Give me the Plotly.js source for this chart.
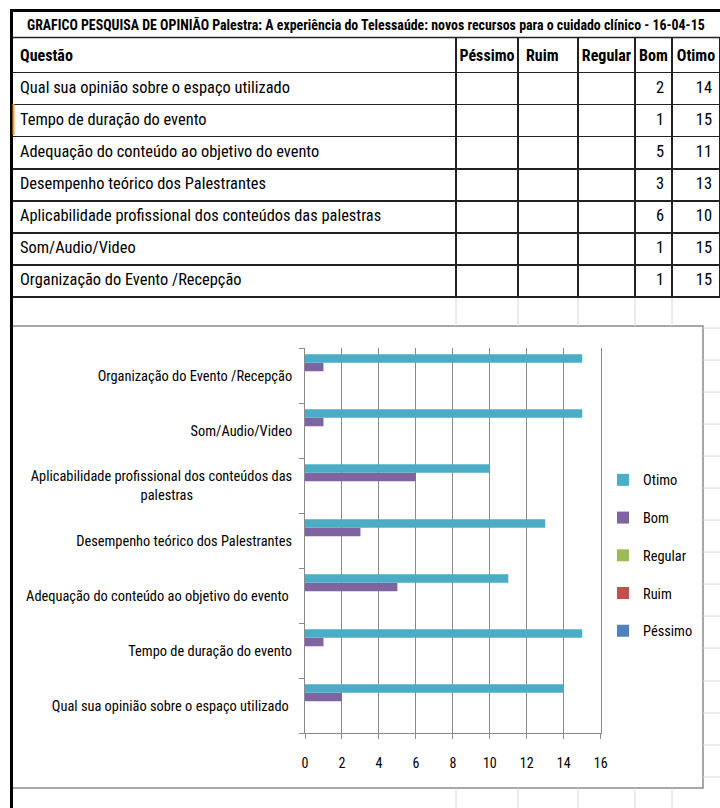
<!DOCTYPE html>
<html>
<head>
<meta charset="utf-8">
<script src="https://cdn.plot.ly/plotly-3.0.1.min.js"></script>
<style>html,body{margin:0;padding:0;background:#fff}#chart{width:720px;height:808px}</style>
</head>
<body>
<div id="chart"></div>
<script>
// ---- data ----
const sheetTitle = "GRAFICO PESQUISA DE OPINIÃO Palestra: A experiência do Telessaúde: novos recursos para o cuidado clínico - 16-04-15";
const columnHeaders = ["Questão", "Péssimo", "Ruim", "Regular", "Bom", "Otimo"];
const questions = [
  "Qual sua opinião sobre o espaço utilizado",
  "Tempo de duração do evento",
  "Adequação do conteúdo ao objetivo do evento",
  "Desempenho teórico dos Palestrantes",
  "Aplicabilidade profissional dos conteúdos das palestras",
  "Som/Audio/Video",
  "Organização do Evento /Recepção"
];
const chartLabels = [
  "Qual sua opinião sobre o espaço utilizado\u00A0",
  "Tempo de duração do evento",
  "Adequação do conteúdo ao objetivo do evento\u00A0",
  "Desempenho teórico dos Palestrantes",
  "Aplicabilidade profissional dos conteúdos das<br>palestras" + "\u00A0".repeat(30),
  "Som/Audio/Video",
  "Organização do Evento /Recepção"
];
const pessimo = [null, null, null, null, null, null, null];
const ruim    = [null, null, null, null, null, null, null];
const regular = [null, null, null, null, null, null, null];
const bom     = [2, 1, 5, 3, 6, 1, 1];
const otimo   = [14, 15, 11, 13, 10, 15, 15];
const seriesNames  = ["Péssimo", "Ruim", "Regular", "Bom", "Otimo"];
const seriesColors = ["#4F81BD", "#C0504D", "#9BBB59", "#8064A2", "#4BACC6"];

// ---- layout helpers (pixel -> paper) ----
const W = 720, H = 808;
const px = x => x / W;
const py = y => 1 - y / H;
const FONT = "'Roboto Condensed', 'DejaVu Sans Condensed', 'Liberation Sans Narrow', Lato, sans-serif";

const cellText = v => (v === null ? "" : String(v));
const seriesData = [pessimo, ruim, regular, bom, otimo];

const dataTable = {
  type: "table",
  domain: {x: [px(12), 1], y: [py(303), py(37.5)]},
  columnwidth: [444, 62, 60, 57, 37, 48],
  header: {
    values: columnHeaders.map(h => "<b>" + h + "</b>"),
    align: ["left", "center", "left", "center", "center", "center"],
    height: 31,
    font: {family: FONT, size: 16, color: "#000"},
    line: {color: "#222", width: 1.5},
    fill: {color: "#fff"}
  },
  cells: {
    values: [questions].concat(seriesData.map(s => s.map(cellText))),
    align: ["left", "right", "right", "right", "right", "right"],
    height: 32.1,
    font: {family: FONT, size: 16.4, color: "#000"},
    line: {color: "#222", width: 1.5},
    fill: {color: "#fff"}
  }
};

const bars = seriesNames.map((name, i) => ({
  type: "bar",
  orientation: "h",
  name: name,
  x: seriesData[i],
  y: chartLabels,
  marker: {color: seriesColors[i], line: {width: 0}},
  legendgroup: name,
  legendrank: seriesNames.length - i,
  hoverinfo: "skip"
}));

// ---- decorative spreadsheet lines ----
const shapes = [];
const line = (x0, y0, x1, y1, color, width) => shapes.push({
  type: "line", xref: "paper", yref: "paper",
  x0: px(x0), y0: py(y0), x1: px(x1), y1: py(y1),
  line: {color: color, width: width}
});
const gridCols = [456, 518, 578, 635, 672];
gridCols.forEach(x => { line(x, 298, x, 326, "#d8d8d8", 1); line(x, 788, x, 808, "#d8d8d8", 1); });
[328, 360, 392, 424, 456, 488, 520, 552, 584, 616, 648, 681, 713, 745, 777].forEach(y => line(703, y, 720, y, "#d8d8d8", 1));
// title row frame
shapes.push({type: "rect", xref: "paper", yref: "paper", x0: px(12), y0: py(37.5), x1: px(721), y1: py(10),
  line: {color: "#222", width: 1.5}, fillcolor: "rgba(0,0,0,0)"});
// chart frame
shapes.push({type: "rect", xref: "paper", yref: "paper", x0: px(12), y0: py(326), x1: px(703), y1: py(788),
  line: {color: "#8a8a8a", width: 1.5}, fillcolor: "rgba(0,0,0,0)", layer: "below"});
// thick sheet borders
line(11.5, 9, 11.5, 808, "#000", 3);
line(10, 10.5, 720, 10.5, "#000", 3);
// selected cell marker
line(13.5, 104, 13.5, 135, "#f0a030", 2);

const layout = {
  width: W, height: H,
  margin: {l: 0, r: 0, t: 0, b: 0},
  paper_bgcolor: "#fff", plot_bgcolor: "rgba(0,0,0,0)",
  font: {family: FONT, color: "#000"},
  showlegend: true,
  barmode: "group",
  bargap: 0.23,
  bargroupgap: 0,
  xaxis: {
    domain: [px(305), px(600.7)],
    range: [0, 16], dtick: 2, tick0: 0,
    showgrid: true, gridcolor: "#8a8a8a", gridwidth: 1,
    showline: true, linecolor: "#8a8a8a", linewidth: 1,
    zeroline: false,
    ticks: "outside", ticklen: 5, tickcolor: "#8a8a8a",
    tickfont: {family: FONT, size: 14, color: "#000"},
    ticklabelstandoff: 12,
    fixedrange: true
  },
  yaxis: {
    domain: [py(733), py(348)],
    type: "category",
    categoryorder: "array", categoryarray: chartLabels,
    showgrid: false,
    showline: true, mirror: true, linecolor: "#8a8a8a", linewidth: 1,
    ticks: "outside", ticklen: 5, tickcolor: "#8a8a8a", tickson: "boundaries",
    tickfont: {family: FONT, size: 14.4, color: "#000"},
    ticklabelstandoff: 9,
    automargin: false,
    fixedrange: true
  },
  legend: {
    x: px(603), y: py(464), xanchor: "left", yanchor: "top",
    traceorder: "grouped",
    tracegroupgap: 16,
    font: {family: FONT, size: 14.4, color: "#000"},
    bgcolor: "rgba(0,0,0,0)"
  },
  annotations: [{
    xref: "paper", yref: "paper", x: px(365.5), y: py(24),
    xanchor: "center", yanchor: "middle", showarrow: false,
    text: "<b>" + sheetTitle + "</b>",
    font: {family: FONT, size: 13.9, color: "#000"}
  }],
  shapes: shapes
};

Plotly.newPlot("chart", [dataTable].concat(bars), layout, {staticPlot: true, displayModeBar: false});
</script>
</body>
</html>
